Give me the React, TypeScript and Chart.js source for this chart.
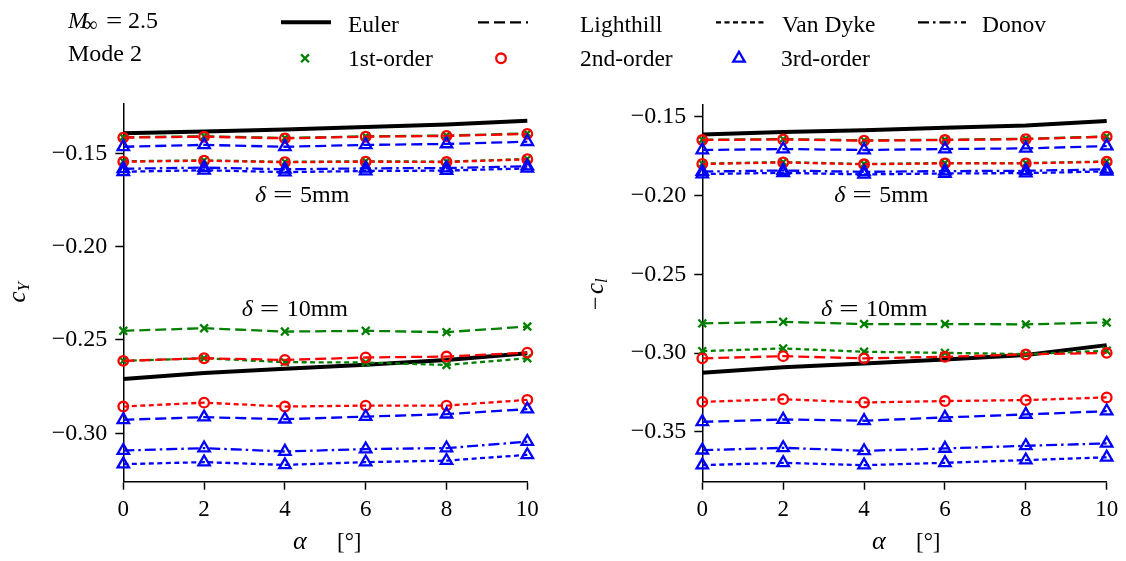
import React, { useEffect, useRef } from 'react';
import { Chart, registerables } from 'chart.js';

Chart.register(...registerables);

const W = 1126;
const H = 561;
const FONT = "'Liberation Serif', 'Times New Roman', Times, serif";
const GREEN = '#008000';
const RED = '#ff0000';
const BLUE = '#0000ff';

// ---------- data ----------
const alphaDeg = [0, 2, 4, 6, 8, 10];
const alphaTicks = [0, 2, 4, 6, 8, 10];
const cyTicks = [-0.3, -0.25, -0.2, -0.15];
const clTicks = [-0.35, -0.3, -0.25, -0.2, -0.15];

// left panel: c_Y, delta = 5 mm
const cyEuler5 = [-0.1392, -0.1382, -0.1372, -0.1358, -0.1345, -0.1324];
const cyLighthill1st5 = [-0.1413, -0.1408, -0.1417, -0.1408, -0.1404, -0.1393];
const cyVanDyke1st5 = [-0.1542, -0.1537, -0.1545, -0.1542, -0.1544, -0.153];
const cyLighthill2nd5 = [-0.1415, -0.141, -0.1419, -0.141, -0.1406, -0.1395];
const cyVanDyke2nd5 = [-0.1544, -0.1539, -0.1547, -0.1544, -0.1546, -0.1531];
const cyLighthill3rd5 = [-0.1464, -0.1454, -0.1464, -0.1454, -0.1449, -0.1437];
const cyDonov3rd5 = [-0.1582, -0.1576, -0.1585, -0.158, -0.1578, -0.1568];
const cyVanDyke3rd5 = [-0.1598, -0.159, -0.16, -0.1594, -0.1592, -0.158];
// left panel: c_Y, delta = 10 mm
const cyEuler10 = [-0.2709, -0.2677, -0.2655, -0.2633, -0.2607, -0.2571];
const cyLighthill1st10 = [-0.2451, -0.2437, -0.2455, -0.2451, -0.2458, -0.2428];
const cyVanDyke1st10 = [-0.2612, -0.2598, -0.2619, -0.2621, -0.2634, -0.2598];
const cyLighthill2nd10 = [-0.2612, -0.2598, -0.2607, -0.2594, -0.2589, -0.2568];
const cyVanDyke2nd10 = [-0.2857, -0.2836, -0.2857, -0.2852, -0.2852, -0.2821];
const cyLighthill3rd10 = [-0.2928, -0.2914, -0.2925, -0.2911, -0.2898, -0.2871];
const cyDonov3rd10 = [-0.3093, -0.308, -0.3098, -0.3085, -0.308, -0.3045];
const cyVanDyke3rd10 = [-0.3166, -0.3155, -0.317, -0.3155, -0.3147, -0.3116];

// right panel: -c_l, delta = 5 mm
const clEuler5 = [-0.1612, -0.1597, -0.1585, -0.157, -0.1555, -0.1527];
const clLighthill1st5 = [-0.1646, -0.1642, -0.165, -0.1646, -0.164, -0.1625];
const clVanDyke1st5 = [-0.1798, -0.1788, -0.18, -0.1794, -0.1794, -0.1784];
const clLighthill2nd5 = [-0.1648, -0.1644, -0.1652, -0.1648, -0.1642, -0.1627];
const clVanDyke2nd5 = [-0.18, -0.179, -0.1802, -0.1796, -0.1796, -0.1786];
const clLighthill3rd5 = [-0.1711, -0.1705, -0.1711, -0.1705, -0.1701, -0.1686];
const clDonov3rd5 = [-0.1848, -0.1841, -0.185, -0.1845, -0.1843, -0.1834];
const clVanDyke3rd5 = [-0.1864, -0.1856, -0.1866, -0.186, -0.1858, -0.1847];
// right panel: -c_l, delta = 10 mm
const clEuler10 = [-0.3126, -0.3091, -0.3066, -0.3041, -0.3013, -0.295];
const clLighthill1st10 = [-0.2812, -0.2802, -0.2816, -0.2816, -0.2818, -0.2806];
const clVanDyke1st10 = [-0.2988, -0.2971, -0.2992, -0.2999, -0.3007, -0.2986];
const clLighthill2nd10 = [-0.3034, -0.302, -0.3034, -0.3024, -0.3009, -0.2999];
const clVanDyke2nd10 = [-0.331, -0.3293, -0.3314, -0.3305, -0.3299, -0.3282];
const clLighthill3rd10 = [-0.3437, -0.3422, -0.343, -0.3409, -0.339, -0.3369];
const clDonov3rd10 = [-0.3617, -0.3602, -0.3621, -0.3606, -0.3589, -0.3574];
const clVanDyke3rd10 = [-0.3712, -0.3697, -0.3712, -0.3697, -0.368, -0.3662];

// ---------- styles ----------
type Method = 'euler' | 'lighthill' | 'vandyke' | 'donov';
const METHOD_STYLE: Record<Method, { label: string; dash: number[]; width: number }> = {
  euler: { label: 'Euler', dash: [], width: 4 },
  lighthill: { label: 'Lighthill', dash: [11, 5], width: 2.3 },
  vandyke: { label: 'Van Dyke', dash: [5, 3.5], width: 2.3 },
  donov: { label: 'Donov', dash: [11, 4, 2.5, 4], width: 2.3 },
};
const ORDER_STYLE: Record<number, { label: string; color: string; point: string; radius: number }> = {
  0: { label: '', color: '#000000', point: 'circle', radius: 0 },
  1: { label: '1st-order', color: GREEN, point: 'crossRot', radius: 5.5 },
  2: { label: '2nd-order', color: RED, point: 'circle', radius: 4.8 },
  3: { label: '3rd-order', color: BLUE, point: 'triangle', radius: 6.6 },
};
const MARKER_LW = 2.3;

type Series = { method: Method; order: number; d5: number[]; d10: number[] };

const cySeries: Series[] = [
  { method: 'euler', order: 0, d5: cyEuler5, d10: cyEuler10 },
  { method: 'lighthill', order: 1, d5: cyLighthill1st5, d10: cyLighthill1st10 },
  { method: 'vandyke', order: 1, d5: cyVanDyke1st5, d10: cyVanDyke1st10 },
  { method: 'lighthill', order: 2, d5: cyLighthill2nd5, d10: cyLighthill2nd10 },
  { method: 'vandyke', order: 2, d5: cyVanDyke2nd5, d10: cyVanDyke2nd10 },
  { method: 'lighthill', order: 3, d5: cyLighthill3rd5, d10: cyLighthill3rd10 },
  { method: 'donov', order: 3, d5: cyDonov3rd5, d10: cyDonov3rd10 },
  { method: 'vandyke', order: 3, d5: cyVanDyke3rd5, d10: cyVanDyke3rd10 },
];
const clSeries: Series[] = [
  { method: 'euler', order: 0, d5: clEuler5, d10: clEuler10 },
  { method: 'lighthill', order: 1, d5: clLighthill1st5, d10: clLighthill1st10 },
  { method: 'vandyke', order: 1, d5: clVanDyke1st5, d10: clVanDyke1st10 },
  { method: 'lighthill', order: 2, d5: clLighthill2nd5, d10: clLighthill2nd10 },
  { method: 'vandyke', order: 2, d5: clVanDyke2nd5, d10: clVanDyke2nd10 },
  { method: 'lighthill', order: 3, d5: clLighthill3rd5, d10: clLighthill3rd10 },
  { method: 'donov', order: 3, d5: clDonov3rd5, d10: clDonov3rd10 },
  { method: 'vandyke', order: 3, d5: clVanDyke3rd5, d10: clVanDyke3rd10 },
];

// ---------- text helpers ----------
type Run = { t: string; x: number; italic?: boolean; size?: number; dy?: number; sx?: number };

function drawRuns(ctx: CanvasRenderingContext2D, x0: number, y0: number, runs: Run[], base: number) {
  for (const r of runs) {
    ctx.font = `${r.italic ? 'italic ' : ''}${r.size ?? base}px ${FONT}`;
    if (r.sx) {
      ctx.save();
      ctx.translate(x0 + r.x, y0 + (r.dy ?? 0));
      ctx.scale(r.sx, 1);
      ctx.fillText(r.t, 0, 0);
      ctx.restore();
    } else {
      ctx.fillText(r.t, x0 + r.x, y0 + (r.dy ?? 0));
    }
  }
}

function drawMarker(ctx: CanvasRenderingContext2D, style: string, x: number, y: number, r: number, color: string) {
  ctx.save();
  ctx.strokeStyle = color;
  ctx.lineWidth = MARKER_LW;
  ctx.setLineDash([]);
  ctx.beginPath();
  if (style === 'circle') {
    ctx.arc(x, y, r, 0, Math.PI * 2);
  } else if (style === 'triangle') {
    for (let k = 0; k < 3; k++) {
      const a = (k * 2 * Math.PI) / 3;
      const px = x + Math.sin(a) * r;
      const py = y - Math.cos(a) * r;
      if (k === 0) ctx.moveTo(px, py);
      else ctx.lineTo(px, py);
    }
    ctx.closePath();
  } else {
    const d = r * Math.cos(Math.PI / 4);
    ctx.moveTo(x - d, y - d);
    ctx.lineTo(x + d, y + d);
    ctx.moveTo(x - d, y + d);
    ctx.lineTo(x + d, y - d);
  }
  ctx.stroke();
  ctx.restore();
}

const deltaRuns = (mm: string): Run[] => [
  { t: 'δ', x: 0, italic: true, size: 24 },
  { t: '=', x: 18, sx: 1.45 },
  { t: mm, x: 45 },
];

type Note = { a: number; v: number; mm: string };
type Panel = {
  series: Series[];
  yMin: number;
  yMax: number;
  yTicks: number[];
  area: { left: number; right: number; top: number; bottom: number };
  yTitle: Run[];
  yTitleCenter: { x: number; y: number; w: number };
  xTitleX: number;
  notes: Note[];
  legend: boolean;
};

const leftPanel: Panel = {
  series: cySeries,
  yMin: -0.326,
  yMax: -0.1231,
  yTicks: cyTicks,
  area: { left: 123.3, right: 527.3, top: 103.3, bottom: 481.7 },
  yTitle: [
    { t: 'c', x: 0, italic: true, size: 25 },
    { t: 'Y', x: 11, italic: true, size: 17, dy: 4 },
  ],
  yTitleCenter: { x: 25, y: 291.5, w: 22 },
  xTitleX: 293,
  notes: [
    { a: 3.26, v: -0.1758, mm: '5mm' },
    { a: 2.93, v: -0.2371, mm: '10mm' },
  ],
  legend: true,
};

const rightPanel: Panel = {
  series: clSeries,
  yMin: -0.3817,
  yMax: -0.1421,
  yTicks: clTicks,
  area: { left: 702.3, right: 1106.7, top: 104.3, bottom: 481.7 },
  yTitle: [
    { t: '\u2212', x: 0, size: 24 },
    { t: 'c', x: 16, italic: true, size: 25 },
    { t: 'l', x: 27, italic: true, size: 17, dy: 4 },
  ],
  yTitleCenter: { x: 603, y: 294, w: 32 },
  xTitleX: 872,
  notes: [
    { a: 3.26, v: -0.204, mm: '5mm' },
    { a: 2.935, v: -0.2765, mm: '10mm' },
  ],
  legend: false,
};

const legendLines: { method: Method; x0: number; x1: number; tx: number }[] = [
  { method: 'euler', x0: 281, x1: 331, tx: 348 },
  { method: 'lighthill', x0: 478, x1: 528, tx: 580 },
  { method: 'vandyke', x0: 716, x1: 764, tx: 782 },
  { method: 'donov', x0: 918, x1: 966, tx: 982 },
];
const legendMarkers: { order: number; cx: number; tx: number }[] = [
  { order: 1, cx: 305, tx: 348 },
  { order: 2, cx: 501, tx: 580 },
  { order: 3, cx: 739, tx: 781 },
];

function makeTextPlugin(panel: Panel) {
  return {
    id: 'panelText',
    afterDraw(chart: any) {
      const ctx: CanvasRenderingContext2D = chart.ctx;
      const xs = chart.scales.x;
      const ys = chart.scales.y;
      ctx.save();
      ctx.fillStyle = '#000';
      ctx.textAlign = 'left';
      ctx.textBaseline = 'alphabetic';

      // delta annotations
      for (const n of panel.notes) {
        drawRuns(ctx, xs.getPixelForValue(n.a), ys.getPixelForValue(n.v), deltaRuns(n.mm), 24);
      }

      // x title
      drawRuns(
        ctx,
        panel.xTitleX,
        549,
        [
          { t: 'α', x: 0, italic: true, size: 26 },
          { t: '[°]', x: 44, size: 23 },
        ],
        23
      );

      // y title (rotated)
      ctx.save();
      ctx.translate(panel.yTitleCenter.x, panel.yTitleCenter.y);
      ctx.rotate(-Math.PI / 2);
      drawRuns(ctx, -panel.yTitleCenter.w / 2, 0, panel.yTitle, 24);
      ctx.restore();

      if (panel.legend) {
        drawRuns(
          ctx,
          68,
          27.5,
          [
            { t: 'M', x: 0, italic: true, size: 24 },
            { t: '∞', x: 15, size: 20, dy: 3 },
            { t: '=', x: 38, sx: 1.2 },
            { t: '2.5', x: 60 },
          ],
          24
        );
        drawRuns(ctx, 68, 61, [{ t: 'Mode 2', x: 0 }], 24);

        for (const l of legendLines) {
          const st = METHOD_STYLE[l.method];
          ctx.save();
          ctx.strokeStyle = '#000';
          ctx.lineWidth = st.width;
          ctx.setLineDash(st.dash);
          ctx.beginPath();
          ctx.moveTo(l.x0, 22.3);
          ctx.lineTo(l.x1, 22.3);
          ctx.stroke();
          ctx.restore();
          drawRuns(ctx, l.tx, 31.5, [{ t: st.label, x: 0 }], 23.5);
        }
        for (const m of legendMarkers) {
          const st = ORDER_STYLE[m.order];
          drawMarker(ctx, st.point, m.cx, 58.3, st.radius, st.color);
          drawRuns(ctx, m.tx, 65.5, [{ t: st.label, x: 0 }], 23.5);
        }
      }
      ctx.restore();
    },
  };
}

const Y_AXIS_W = 100;

function fmtY(v: number) {
  const s = Math.abs(v).toFixed(2);
  return v < 0 ? '\u2212' + s : s;
}

function buildConfig(panel: Panel): any {
  const datasets: any[] = [];
  for (const s of panel.series) {
    const ms = METHOD_STYLE[s.method];
    const os = ORDER_STYLE[s.order];
    for (const vals of [s.d5, s.d10]) {
      datasets.push({
        label: `${ms.label} ${os.label}`,
        data: vals.map((y, i) => ({ x: alphaDeg[i], y })),
        borderColor: os.color,
        borderWidth: ms.width,
        borderDash: ms.dash,
        pointStyle: os.point,
        pointRadius: os.radius,
        pointHoverRadius: os.radius,
        pointBorderWidth: MARKER_LW,
        pointBorderColor: os.color,
        pointBackgroundColor: 'rgba(0,0,0,0)',
        tension: 0,
        fill: false,
        clip: false,
        order: s.order === 0 ? 4 : 4 - s.order,
      });
    }
  }
  const a = panel.area;
  const axisCommon = {
    grid: {
      display: true,
      drawOnChartArea: false,
      drawTicks: true,
      tickLength: 8,
      tickWidth: 1.5,
      tickColor: '#000',
      color: '#000',
    },
    border: { display: true, color: '#000', width: 1.5 },
  };
  return {
    type: 'line',
    data: { datasets },
    options: {
      responsive: false,
      maintainAspectRatio: false,
      animation: false,
      devicePixelRatio: 1,
      events: [],
      layout: {
        padding: { left: a.left - Y_AXIS_W, right: W - a.right, top: a.top, bottom: 0 },
      },
      plugins: { legend: { display: false }, tooltip: { enabled: false }, title: { display: false } },
      scales: {
        x: {
          type: 'linear',
          min: 0,
          max: 10,
          ...axisCommon,
          ticks: {
            color: '#000',
            font: { family: FONT, size: 23 },
            padding: 6,
            maxRotation: 0,
            autoSkip: false,
            callback: (v: any) => String(v),
          },
          afterBuildTicks: (sc: any) => {
            sc.ticks = alphaTicks.map((v) => ({ value: v }));
          },
          afterFit: (sc: any) => {
            sc.height = H - a.bottom;
          },
        },
        y: {
          type: 'linear',
          min: panel.yMin,
          max: panel.yMax,
          ...axisCommon,
          ticks: {
            color: '#000',
            font: { family: FONT, size: 24 },
            padding: 8,
            autoSkip: false,
            callback: (v: any) => fmtY(Number(v)),
          },
          afterBuildTicks: (sc: any) => {
            sc.ticks = panel.yTicks.map((v) => ({ value: v }));
          },
          afterFit: (sc: any) => {
            sc.width = Y_AXIS_W;
          },
        },
      },
    },
    plugins: [makeTextPlugin(panel)],
  };
}

export default function App() {
  const leftRef = useRef<HTMLCanvasElement>(null);
  const rightRef = useRef<HTMLCanvasElement>(null);

  useEffect(() => {
    const c1 = new Chart(leftRef.current as HTMLCanvasElement, buildConfig(leftPanel));
    const c2 = new Chart(rightRef.current as HTMLCanvasElement, buildConfig(rightPanel));
    return () => {
      c1.destroy();
      c2.destroy();
    };
  }, []);

  const canvasStyle: React.CSSProperties = { position: 'absolute', left: 0, top: 0, width: W, height: H };
  return (
    <div style={{ position: 'absolute', left: 0, top: 0, width: W, height: H, background: '#fff', overflow: 'hidden' }}>
      <canvas ref={leftRef} width={W} height={H} style={canvasStyle} />
      <canvas ref={rightRef} width={W} height={H} style={canvasStyle} />
    </div>
  );
}
